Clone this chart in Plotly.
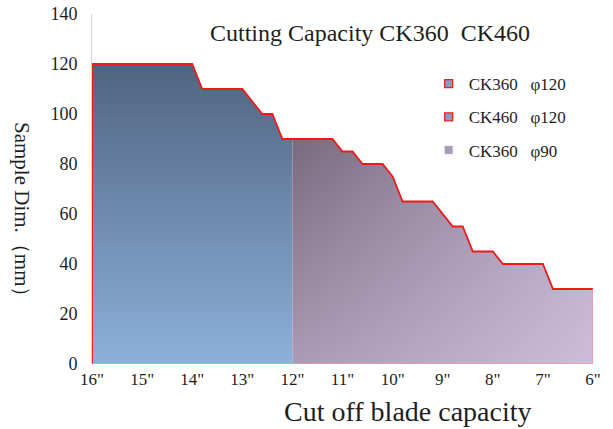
import plotly.graph_objects as go

# ---- data ----
blade_ck360_120 = [16, 14, 13.8, 13, 12.6, 12.4, 12.2, 12]
dim_ck360_120 = [120, 120, 110, 110, 100, 100, 90, 90]
blade_ck360_90 = [12, 11.2, 11, 10.8, 10.6, 10.2, 10, 9.8, 9.2, 8.8, 8.6, 8.4, 8, 7.8, 7, 6.8, 6]
dim_ck360_90 = [90, 90, 85, 85, 80, 80, 75, 65, 65, 55, 55, 45, 45, 40, 40, 30, 30]
x_ticks = [16, 15, 14, 13, 12, 11, 10, 9, 8, 7, 6]
x_ticklabels = ['16"', '15"', '14"', '13"', '12"', '11"', '10"', '9"', '8"', '7"', '6"']
y_ticks = [0, 20, 40, 60, 80, 100, 120, 140]
legend_names = ["CK360   φ120", "CK460   φ120", "CK360   φ90"]

FONT = "Liberation Serif, DejaVu Serif, serif"
TXT = "#1e1e1e"

# plot area in page pixels (body margin removed by post_script)
PL, PR, PT, PB = 92, 593, 14, 364
PW, PH = PR - PL, PB - PT


def px_x(v):
    return (v - PL) / PW


def px_y(v):
    return (PB - v) / PH


fig = go.Figure()

# blue area (16" - 12")
bx = blade_ck360_120 + [blade_ck360_120[-1], blade_ck360_120[0]]
by = dim_ck360_120 + [0, 0]
fig.add_trace(go.Scatter(
    x=bx, y=by, mode="lines", fill="toself", line=dict(width=0),
    fillgradient=dict(type="vertical", colorscale=[[0, "#8db0db"], [1, "#50647f"]],
                      start=0, stop=max(dim_ck360_120)),
    showlegend=False, hoverinfo="skip"))

# purple area (12" - 6")
px = blade_ck360_90 + [blade_ck360_90[-1], blade_ck360_90[0]]
py = dim_ck360_90 + [0, 0]
fig.add_trace(go.Scatter(
    x=px, y=py, mode="lines", fill="toself", line=dict(width=0),
    fillgradient=dict(type="vertical", colorscale=[[0, "#a99bb5"], [1, "#776a7e"]],
                      start=0, stop=max(dim_ck360_90)),
    showlegend=False, hoverinfo="skip"))
fig.add_trace(go.Scatter(
    x=px, y=py, mode="lines", fill="toself", line=dict(width=0),
    fillgradient=dict(type="horizontal",
                      colorscale=[[0, "rgba(232,216,250,0.55)"], [1, "rgba(232,216,250,0)"]],
                      start=blade_ck360_90[-1], stop=blade_ck360_90[0]),
    showlegend=False, hoverinfo="skip"))

# red outline along the top profile
ox = [blade_ck360_120[0]] + blade_ck360_120 + blade_ck360_90[1:]
oy = [0] + dim_ck360_120 + dim_ck360_90[1:]
fig.add_trace(go.Scatter(x=ox, y=oy, mode="lines", line=dict(color="#f01818", width=1.8),
                         showlegend=False, hoverinfo="skip"))
# lighter outline along right edge and bottom
fig.add_trace(go.Scatter(
    x=[blade_ck360_90[-1], blade_ck360_90[-1], blade_ck360_120[0]],
    y=[dim_ck360_90[-1], 0, 0], mode="lines",
    line=dict(color="#f29aa6", width=1.4), showlegend=False, hoverinfo="skip"))

# legend entries
legend_styles = [
    dict(color="#7e9ec6", line=dict(color="#ee2020", width=1.3)),
    dict(color="#7e9ec6", line=dict(color="#ee2020", width=1.3)),
    dict(color="#a89bb6", line=dict(color="#c8bfd2", width=0.5)),
]
for i, (name, st) in enumerate(zip(legend_names, legend_styles)):
    fig.add_trace(go.Scatter(
        x=[None], y=[None], mode="markers", name=name, legendgroup=f"g{i}",
        marker=dict(symbol="square", size=8, **st)))

W, H = 613, 429
fig.update_layout(
    width=W, height=H,
    margin=dict(l=PL, r=W - PR, t=PT, b=H - PB, autoexpand=False),
    paper_bgcolor="white", plot_bgcolor="white",
    font=dict(family=FONT, color=TXT, size=17),
    title=dict(text="Cutting Capacity CK360  CK460", x=px_x(370), xref="paper",
               xanchor="center", y=1 - 33 / H, yanchor="middle",
               font=dict(family=FONT, size=24, color=TXT)),
    showlegend=True,
    legend=dict(x=0.672, y=0.851, xanchor="left", yanchor="top", bgcolor="rgba(0,0,0,0)",
                font=dict(family=FONT, size=17, color=TXT), tracegroupgap=8,
                itemwidth=30),
    xaxis=dict(range=[16, 6], tickvals=x_ticks, ticktext=x_ticklabels, showgrid=False,
               zeroline=False, showline=False, ticks="", automargin=False,
               tickfont=dict(family=FONT, size=17), ticklabelstandoff=3,
               ticklabeloverflow="allow"),
    yaxis=dict(range=[0, 140], tickvals=y_ticks, showgrid=False, zeroline=False,
               showline=True, linecolor="#d4d4d4", linewidth=1, ticks="", automargin=False,
               tickfont=dict(family=FONT, size=18), ticklabelstandoff=10,
               ticklabeloverflow="allow"),
    annotations=[
        dict(text="Cut off blade capacity", xref="paper", yref="paper",
             x=px_x(408), y=px_y(411), xanchor="center", yanchor="middle",
             showarrow=False, font=dict(family=FONT, size=28, color=TXT)),
        dict(text="Sample Dim.（mm）", xref="paper", yref="paper",
             x=px_x(22), y=px_y(215), xanchor="center", yanchor="middle",
             textangle=90, showarrow=False, font=dict(family=FONT, size=21, color=TXT)),
    ],
)

fig.write_html("out.html", config={"displayModeBar": False},
               post_script="document.body.style.margin='0';")
